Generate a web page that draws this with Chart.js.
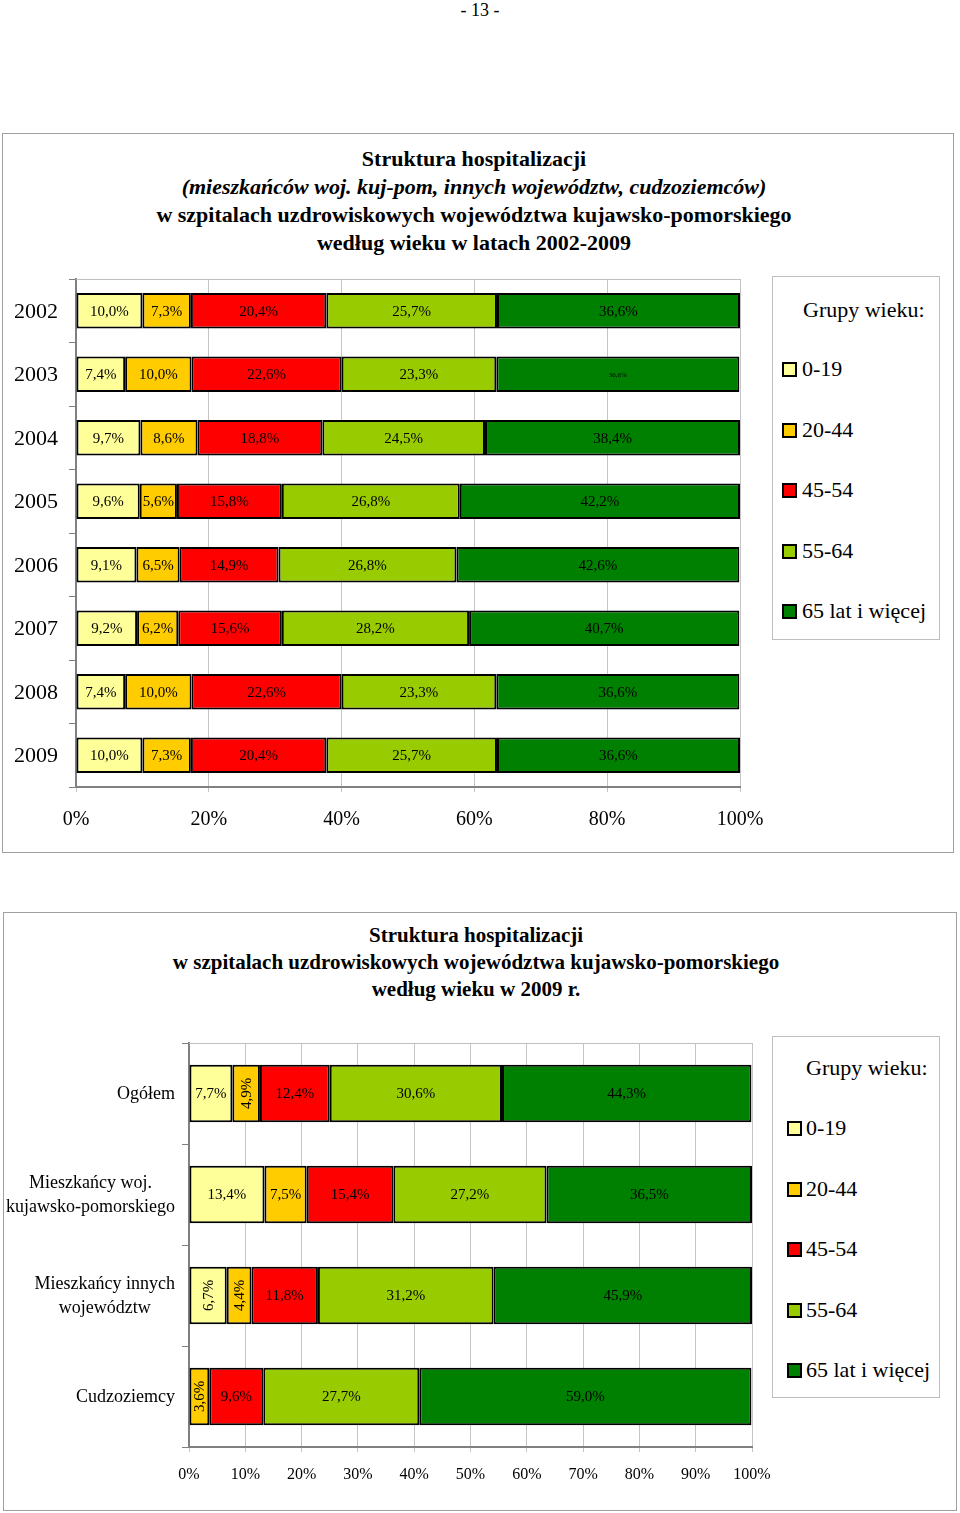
<!DOCTYPE html>
<html lang="pl">
<head>
<meta charset="utf-8">
<title>Struktura hospitalizacji</title>
<script src="https://cdn.jsdelivr.net/npm/chart.js@4.4.1/dist/chart.umd.min.js"></script>
<style>
  body {
    margin: 0;
    width: 960px;
    height: 1513px;
    position: relative;
    background: #fff;
    color: #000;
    font-family: "Liberation Serif", "Times New Roman", serif;
    overflow: hidden;
  }
  .page-no { position: absolute; top: 0; left: 0; width: 960px; text-align: center; font-size: 18px; line-height: 20px; }
  .frame { position: absolute; box-sizing: border-box; border: 1px solid #a0a0a0; }
  .title { position: absolute; text-align: center; font-weight: bold; white-space: nowrap; }
  .title div { height: 28px; }
  .legend { position: absolute; box-sizing: border-box; border: 1px solid #bdbdbd; background: #fff; }
  .legend .head, .legend .item { position: absolute; font-size: 22px; line-height: 24px; white-space: nowrap; }
  .legend .sq { position: absolute; box-sizing: border-box; width: 15px; height: 15px; border: 2px solid #000; }
  canvas { position: absolute; }
</style>
</head>
<body>

<div class="page-no">- 13 -</div>

<div class="frame" style="left:2px; top:133px; width:952px; height:720px;"></div>
<div class="frame" style="left:3px; top:912px; width:954px; height:599px;"></div>

<div class="title" style="left:0; width:948px; top:145px; font-size:22px; line-height:28px;">
  <div>Struktura hospitalizacji</div>
  <div><i>(mieszkańców woj. kuj-pom, innych województw, cudzoziemców)</i></div>
  <div>w szpitalach uzdrowiskowych województwa kujawsko-pomorskiego</div>
  <div>według wieku w latach 2002-2009</div>
</div>

<div class="title" style="left:0; width:952px; top:922px; font-size:21px; line-height:27px;">
  <div style="height:27px">Struktura hospitalizacji</div>
  <div style="height:27px">w szpitalach uzdrowiskowych województwa kujawsko-pomorskiego</div>
  <div style="height:27px">według wieku w 2009 r.</div>
</div>

<canvas id="chartYears" width="800" height="570" style="left:0; top:270px;"></canvas>
<canvas id="chartGroups" width="800" height="470" style="left:0; top:1030px;"></canvas>

<div class="legend" id="legendYears" style="left:772px; top:276px; width:168px; height:364px;"></div>
<div class="legend" id="legendGroups" style="left:772px; top:1036px; width:168px; height:362px;"></div>

<script>
// grupy wieku i ich kolory
const ageGroups = ['0-19', '20-44', '45-54', '55-64', '65 lat i więcej'];
const groupColors = ['#FFFF99', '#FFCC00', '#FF0000', '#99CC00', '#008000'];

// wykres 1: lata 2002-2009 (udział %)
const years = ['2002', '2003', '2004', '2005', '2006', '2007', '2008', '2009'];
const years0_19  = [10.0, 7.4, 9.7, 9.6, 9.1, 9.2, 7.4, 10.0];
const years20_44 = [7.3, 10.0, 8.6, 5.6, 6.5, 6.2, 10.0, 7.3];
const years45_54 = [20.4, 22.6, 18.8, 15.8, 14.9, 15.6, 22.6, 20.4];
const years55_64 = [25.7, 23.3, 24.5, 26.8, 26.8, 28.2, 23.3, 25.7];
const years65up  = [36.6, 36.6, 38.4, 42.2, 42.6, 40.7, 36.6, 36.6];

// wykres 2: grupy pacjentów w 2009 r. (udział %)
const patientGroups = [
  'Ogółem',
  ['Mieszkańcy woj.', 'kujawsko-pomorskiego'],
  ['Mieszkańcy innych', 'województw'],
  'Cudzoziemcy'
];
const groups0_19  = [7.7, 13.4, 6.7, 0];
const groups20_44 = [4.9, 7.5, 4.4, 3.6];
const groups45_54 = [12.4, 15.4, 11.8, 9.6];
const groups55_64 = [30.6, 27.2, 31.2, 27.7];
const groups65up  = [44.3, 36.5, 45.9, 59.0];

const FONT = '"Liberation Serif", "Times New Roman", serif';

/* ================================================
   Pluginy: etykiety segmentów, etykiety kategorii, ramka
   ================================================ */
const segmentLabels = {
  id: 'segmentLabels',
  afterDatasetsDraw(chart, args, opts) {
    const ctx = chart.ctx;
    ctx.save();
    ctx.fillStyle = '#000';
    ctx.textAlign = 'center';
    ctx.textBaseline = 'middle';
    chart.data.datasets.forEach((ds, di) => {
      const meta = chart.getDatasetMeta(di);
      meta.data.forEach((bar, i) => {
        const v = ds.data[i];
        if (!v) return;
        const text = v.toFixed(1).replace('.', ',') + '%';
        const cx = (bar.x + bar.base) / 2;
        const tiny = (opts.tiny || []).some(t => t[0] === i && t[1] === di);
        ctx.font = (tiny ? opts.tinySize : opts.size) + 'px ' + FONT;
        if (v < opts.rotateBelow) {
          ctx.save();
          ctx.translate(cx, bar.y);
          ctx.rotate(-Math.PI / 2);
          ctx.fillText(text, 0, 1);
          ctx.restore();
        } else {
          ctx.fillText(text, cx, bar.y + 1);
        }
      });
    });
    ctx.restore();
  }
};

// etykiety kategorii: blok wyrównany do prawej, wiersze wyśrodkowane
const categoryLabels = {
  id: 'categoryLabels',
  afterDraw(chart, args, opts) {
    const ctx = chart.ctx;
    const yScale = chart.scales.y;
    ctx.save();
    ctx.font = opts.size + 'px ' + FONT;
    ctx.fillStyle = '#000';
    ctx.textAlign = 'center';
    ctx.textBaseline = 'middle';
    chart.data.labels.forEach((lab, i) => {
      const lines = Array.isArray(lab) ? lab : [lab];
      const w = Math.max(...lines.map(l => ctx.measureText(l).width));
      const cx = opts.right - w / 2;
      const y0 = yScale.getPixelForValue(i) - (lines.length - 1) * opts.lineHeight / 2;
      lines.forEach((l, k) => ctx.fillText(l, cx, y0 + k * opts.lineHeight + 1));
    });
    ctx.restore();
  }
};

// górna krawędź obszaru wykresu
const plotFrame = {
  id: 'plotFrame',
  beforeDatasetsDraw(chart) {
    const a = chart.chartArea;
    const ctx = chart.ctx;
    ctx.save();
    ctx.strokeStyle = '#c0c0c0';
    ctx.lineWidth = 1;
    ctx.beginPath();
    ctx.moveTo(a.left, a.top + 0.5);
    ctx.lineTo(a.right, a.top + 0.5);
    ctx.stroke();
    ctx.restore();
  }
};

/* ================================================
   Wykres skumulowany (poziomy, 100%)
   ================================================ */
function makeChart(id, categories, series, cfg) {
  const datasets = ageGroups.map((g, i) => ({
    label: g,
    data: series[i],
    backgroundColor: groupColors[i],
    borderColor: '#000',
    borderWidth: 2,
    borderSkipped: false,
    categoryPercentage: 1,
    barPercentage: cfg.barPct
  }));

  return new Chart(document.getElementById(id), {
    type: 'bar',
    data: { labels: categories, datasets: datasets },
    plugins: [plotFrame, segmentLabels, categoryLabels],
    options: {
      indexAxis: 'y',
      responsive: false,
      animation: false,
      layout: { padding: { top: cfg.padTop, right: cfg.padRight, left: 0, bottom: 0 } },
      plugins: {
        legend: { display: false },
        tooltip: { enabled: false },
        segmentLabels: { size: cfg.labelSize, rotateBelow: cfg.rotateBelow, tiny: cfg.tiny, tinySize: 7 },
        categoryLabels: { size: cfg.catSize, right: cfg.catRight, lineHeight: cfg.catLine }
      },
      scales: {
        x: {
          stacked: true,
          min: 0,
          max: 100,
          ticks: {
            stepSize: cfg.step,
            callback: v => v + '%',
            color: '#000',
            font: { family: FONT, size: cfg.tickSize },
            padding: cfg.tickPad,
            maxRotation: 0
          },
          grid: { color: '#c4c4c4', tickLength: 5 },
          border: { color: '#808080', width: 2 },
          afterFit: s => { s.height = cfg.xHeight; }
        },
        y: {
          stacked: true,
          ticks: { display: false },
          grid: { drawOnChartArea: false, tickLength: 7, color: '#808080', offset: true },
          border: { color: '#808080', width: 2 },
          afterFit: s => { s.width = cfg.yWidth; }
        }
      }
    }
  });
}

/* ================================================
   Legenda (HTML)
   ================================================ */
function buildLegend(id, cfg) {
  const el = document.getElementById(id);
  const head = document.createElement('div');
  head.className = 'head';
  head.textContent = 'Grupy wieku:';
  head.style.left = cfg.headLeft + 'px';
  head.style.top = (cfg.headY - 12) + 'px';
  el.appendChild(head);

  ageGroups.forEach((g, i) => {
    const y = cfg.firstY + i * cfg.step;
    const sq = document.createElement('div');
    sq.className = 'sq';
    sq.style.background = groupColors[i];
    sq.style.left = cfg.sqLeft + 'px';
    sq.style.top = (y - 7) + 'px';
    el.appendChild(sq);

    const item = document.createElement('div');
    item.className = 'item';
    item.textContent = g;
    item.style.left = cfg.textLeft + 'px';
    item.style.top = (y - 12) + 'px';
    el.appendChild(item);
  });
}

makeChart('chartYears', years,
  [years0_19, years20_44, years45_54, years55_64, years65up], {
    barPct: 0.56, padTop: 9, padRight: 60, yWidth: 76, xHeight: 53,
    step: 20, tickSize: 20, tickPad: 16,
    labelSize: 15, rotateBelow: 0, tiny: [[1, 4]],
    catSize: 22, catRight: 58, catLine: 24
  });

makeChart('chartGroups', patientGroups,
  [groups0_19, groups20_44, groups45_54, groups55_64, groups65up], {
    barPct: 0.57, padTop: 13, padRight: 48, yWidth: 189, xHeight: 53,
    step: 10, tickSize: 16, tickPad: 13,
    labelSize: 15, rotateBelow: 7, tiny: [],
    catSize: 18, catRight: 175, catLine: 24
  });

buildLegend('legendYears', { headLeft: 30, headY: 33, sqLeft: 9, textLeft: 29, firstY: 92, step: 60.5 });
buildLegend('legendGroups', { headLeft: 33, headY: 31, sqLeft: 14, textLeft: 33, firstY: 91, step: 60.5 });
</script>
</body>
</html>
